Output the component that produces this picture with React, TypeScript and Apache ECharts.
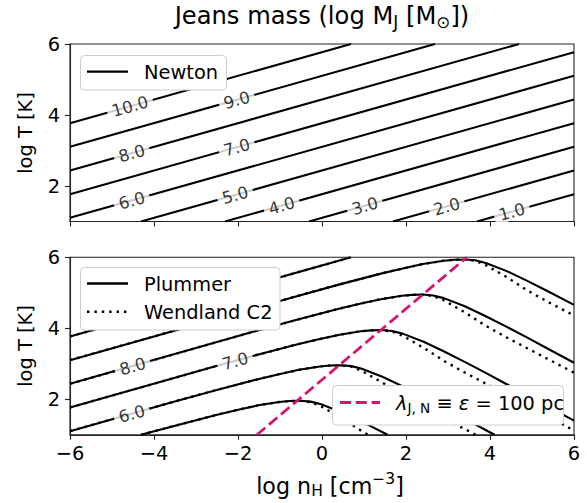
import React, { useEffect, useRef } from "react";
import * as echarts from "echarts";

const FONT = "DejaVu Sans";

// Axis ticks
const xTicks = [-6, -4, -2, 0, 2, 4, 6];
const yTicks = [2, 4, 6];

// Top panel: Newtonian Jeans-mass contours (log n_H, log T)
const newtonLevels = [10, 9, 8, 7, 6, 5, 4, 3, 2, 1];
const newtonStart = [
  [-6, 3.77], [-6, 3.103], [-6, 2.437], [-6, 1.77], [-6, 1.103],
  [-4.31, 1], [-2.31, 1], [-0.31, 1], [1.69, 1], [3.69, 1],
];
const newtonEnd = [
  [0.69, 6], [2.69, 6], [4.69, 6], [6, 5.77], [6, 5.103],
  [6, 4.437], [6, 3.77], [6, 3.103], [6, 2.437], [6, 1.77],
];

// Inline contour labels
const topLabelText = ["10.0", "9.0", "8.0", "7.0", "6.0", "5.0", "4.0", "3.0", "2.0", "1.0"];
const topLabelX = [-4.57, -2.03, -4.53, -2.03, -4.53, -2.07, -0.96, 1.02, 2.97, 4.52];
const topLabelY = [4.247, 4.427, 2.927, 3.093, 1.593, 1.747, 1.45, 1.443, 1.427, 1.277];
const bottomLabelText = ["8.0", "7.0", "6.0"];
const bottomLabelX = [-4.51, -2.07, -4.53];
const bottomLabelY = [2.934, 3.08, 1.593];

// Bottom panel: softened contours, Plummer (solid)
const plummer10 = [[-6, 3.77], [0.69, 6]];
const plummer9 = [[-6, 3.103], [-0.6, 4.905], [0.4, 5.23], [1.4, 5.54], [1.9, 5.68], [2.4, 5.81], [2.9, 5.905], [3.15, 5.932], [3.4, 5.94], [3.65, 5.915], [3.9, 5.84], [4.4, 5.61], [4.9, 5.33], [5.4, 5.03], [6, 4.66]];
const plummer8 = [[-6, 2.437], [-1.6, 3.915], [-0.6, 4.24], [0.4, 4.55], [0.9, 4.69], [1.4, 4.82], [1.9, 4.915], [2.15, 4.942], [2.4, 4.95], [2.65, 4.925], [2.9, 4.85], [3.4, 4.62], [3.9, 4.34], [4.4, 4.04], [4.9, 3.73], [5.4, 3.41], [6, 3.03]];
const plummer7 = [[-6, 1.77], [-2.58, 2.915], [-1.58, 3.24], [-0.58, 3.55], [-0.08, 3.69], [0.42, 3.82], [0.92, 3.915], [1.17, 3.942], [1.42, 3.95], [1.67, 3.925], [1.92, 3.85], [2.42, 3.62], [2.92, 3.34], [3.42, 3.04], [3.92, 2.73], [4.42, 2.41], [4.92, 2.09], [5.42, 1.77], [6, 1.4]];
const plummer6 = [[-6, 1.103], [-3.55, 1.925], [-2.55, 2.25], [-1.55, 2.56], [-1.05, 2.7], [-0.55, 2.83], [-0.05, 2.925], [0.2, 2.952], [0.45, 2.96], [0.7, 2.935], [0.95, 2.86], [1.45, 2.63], [1.95, 2.35], [2.45, 2.05], [2.95, 1.74], [3.45, 1.42], [3.95, 1.1], [4.11, 1]];
const plummer5 = [[-4.31, 1], [-3.52, 1.25], [-2.52, 1.56], [-2.02, 1.7], [-1.52, 1.83], [-1.02, 1.925], [-0.77, 1.952], [-0.52, 1.96], [-0.27, 1.935], [-0.02, 1.86], [0.48, 1.63], [0.98, 1.35], [1.48, 1.05], [1.56, 1]];

// Wendland C2 (dotted)
const wendland10 = [[-6, 3.77], [0.69, 6]];
const wendland9 = [[-6, 3.103], [-0.6, 4.905], [0.4, 5.23], [1.4, 5.54], [1.9, 5.68], [2.4, 5.81], [2.9, 5.905], [3.15, 5.932], [3.4, 5.935], [3.65, 5.9], [3.9, 5.78], [4.4, 5.44], [4.9, 5.06], [5.4, 4.73], [6, 4.36]];
const wendland8 = [[-6, 2.437], [-1.6, 3.915], [-0.6, 4.24], [0.4, 4.55], [0.9, 4.69], [1.4, 4.82], [1.9, 4.915], [2.15, 4.942], [2.4, 4.945], [2.65, 4.91], [2.9, 4.79], [3.4, 4.45], [3.9, 4.07], [4.4, 3.74], [4.9, 3.43], [5.4, 3.12], [6, 2.75]];
const wendland7 = [[-6, 1.77], [-2.58, 2.915], [-1.58, 3.24], [-0.58, 3.55], [-0.08, 3.69], [0.42, 3.82], [0.92, 3.915], [1.17, 3.942], [1.42, 3.945], [1.67, 3.91], [1.92, 3.79], [2.42, 3.45], [2.92, 3.07], [3.42, 2.74], [3.92, 2.43], [4.42, 2.12], [4.92, 1.81], [5.42, 1.49], [6, 1.12]];
const wendland6 = [[-6, 1.103], [-3.55, 1.925], [-2.55, 2.25], [-1.55, 2.56], [-1.05, 2.7], [-0.55, 2.83], [-0.05, 2.925], [0.2, 2.952], [0.45, 2.955], [0.7, 2.92], [0.95, 2.8], [1.45, 2.46], [1.95, 2.08], [2.45, 1.75], [2.95, 1.44], [3.45, 1.13], [3.66, 1]];
const wendland5 = [[-4.31, 1], [-3.52, 1.25], [-2.52, 1.56], [-2.02, 1.7], [-1.52, 1.83], [-1.02, 1.925], [-0.77, 1.952], [-0.52, 1.955], [-0.27, 1.92], [-0.02, 1.8], [0.48, 1.46], [0.98, 1.08], [1.1, 1]];

// lambda_J,N = epsilon = 100 pc line
const lambdaLine = [[-1.55, 1], [3.45, 6]];

const PINK = "#d4156f";
const SPINE = "#222";

function minusFmt(v: number) {
  return v < 0 ? "\u2212" + Math.abs(v) : String(v);
}

export default function App() {
  const ref = useRef<HTMLDivElement>(null);

  useEffect(() => {
    if (!ref.current) return;
    const chart = echarts.init(ref.current, undefined, { renderer: "svg" });

    const gridCommon = {
      left: 70,
      width: 504,
      height: 177.5,
      show: true,
      borderColor: SPINE,
      borderWidth: 1.1,
      backgroundColor: "transparent",
    };

    const xAxisCommon = (gridIndex: number, showLabels: boolean) => ({
      type: "value",
      gridIndex,
      min: -6,
      max: 6,
      interval: 2,
      axisLine: { show: true, onZero: false, lineStyle: { color: SPINE, width: 1.1 } },
      axisTick: { show: true, length: 5, lineStyle: { color: SPINE, width: 1.1 } },
      axisLabel: {
        show: showLabels,
        fontSize: 19.4,
        fontFamily: FONT,
        color: "#000",
        margin: 9,
        formatter: (v: number) => minusFmt(v),
      },
      splitLine: { show: false },
    });

    const yAxisCommon = (gridIndex: number) => ({
      type: "value",
      gridIndex,
      min: 1,
      max: 6,
      axisLine: { show: true, onZero: false, lineStyle: { color: SPINE, width: 1.1 } },
      axisTick: { show: true, length: 5, customValues: yTicks, lineStyle: { color: SPINE, width: 1.1 } },
      axisLabel: {
        show: true,
        customValues: yTicks,
        fontSize: 19.4,
        fontFamily: FONT,
        color: "#000",
        margin: 10,
        formatter: (v: number) => minusFmt(v),
      },
      splitLine: { show: false },
    });

    const series: any[] = [];

    newtonStart.forEach((s, i) => {
      series.push({
        name: "Newton " + newtonLevels[i],
        type: "line",
        xAxisIndex: 0,
        yAxisIndex: 0,
        data: [s, newtonEnd[i]],
        symbol: "none",
        silent: true,
        lineStyle: { color: "#000", width: 2.1 },
        z: 2,
      });
    });

    const labelSeries = (axis: number, texts: string[], xs: number[], ys: number[]) => ({
      type: "scatter",
      xAxisIndex: axis,
      yAxisIndex: axis,
      symbolSize: 0,
      silent: true,
      z: 5,
      data: texts.map((t, i) => ({ name: t, value: [xs[i], ys[i]] })),
      label: {
        show: true,
        position: "inside",
        formatter: (p: any) => p.name,
        rotate: 15.7,
        fontSize: 16.7,
        fontFamily: FONT,
        color: "#000",
        backgroundColor: "#fff",
        padding: [0, 5],
      },
    });

    series.push(labelSeries(0, topLabelText, topLabelX, topLabelY));

    const plummer = [plummer10, plummer9, plummer8, plummer7, plummer6, plummer5];
    const wendland = [wendland10, wendland9, wendland8, wendland7, wendland6, wendland5];

    plummer.forEach((d, i) => {
      series.push({
        name: "Plummer " + (10 - i),
        type: "line",
        xAxisIndex: 1,
        yAxisIndex: 1,
        data: d,
        symbol: "none",
        silent: true,
        lineStyle: { color: "#000", width: 2.1, join: "round" },
        z: 2,
      });
    });
    wendland.forEach((d, i) => {
      series.push({
        name: "Wendland " + (10 - i),
        type: "line",
        xAxisIndex: 1,
        yAxisIndex: 1,
        data: d,
        symbol: "none",
        silent: true,
        lineStyle: { color: "#000", width: 2.4, type: [2.4, 5] },
        z: 3,
      });
    });

    series.push(labelSeries(1, bottomLabelText, bottomLabelX, bottomLabelY));

    series.push({
      name: "lambda",
      type: "line",
      xAxisIndex: 1,
      yAxisIndex: 1,
      data: lambdaLine,
      symbol: "none",
      silent: true,
      lineStyle: { color: PINK, width: 2.8, type: [11, 4.8] },
      z: 6,
    });

    const txt = (x: number, y: number, text: string, rich: any, extra: any = {}) => ({
      type: "text",
      x,
      y,
      z: 100,
      ...extra,
      style: {
        text,
        align: extra.align || "left",
        verticalAlign: "middle",
        textAlign: extra.align || "left",
        textVerticalAlign: "middle",
        fontSize: 19.4,
        fontFamily: FONT,
        fill: "#000",
        rich,
      },
    });

    const normal = (fs: number) => ({ fontSize: fs, fontFamily: FONT, fill: "#000", lineHeight: fs * 1.15 });
    const italic = (fs: number) => ({ fontSize: fs, fontFamily: FONT, fontStyle: "italic", fill: "#000", lineHeight: fs * 1.15 });
    const sub = (fs: number, p: number) => ({ fontSize: fs, fontFamily: FONT, fill: "#000", lineHeight: fs * 1.15, padding: [p, 0, 0, 0] });
    const sup = (fs: number, p: number) => ({ fontSize: fs, fontFamily: FONT, fill: "#000", lineHeight: fs * 1.15, padding: [0, 0, p, 0] });

    const legendBox = (x: number, y: number, w: number, h: number) => ({
      type: "rect",
      z: 90,
      shape: { x, y, width: w, height: h, r: 4 },
      style: { fill: "#fff", stroke: "#cccccc", lineWidth: 1 },
    });
    const legendLine = (x1: number, x2: number, y: number, style: any) => ({
      type: "line",
      z: 95,
      shape: { x1, y1: y, x2, y2: y },
      style: { lineWidth: 2.3, stroke: "#000", ...style },
    });

    const graphic: any[] = [
      // title
      txt(322, 16, "{n|Jeans mass (log M}{s|J}{n| [M}{s|\u2299}{n|])}", { n: normal(24.2), s: sub(16.9, 11) }, { align: "center" }),
      // y labels
      txt(25, 133, "log T [K]", { n: normal(23) }, { align: "center", rotation: Math.PI / 2 }),
      txt(25, 346, "log T [K]", { n: normal(23) }, { align: "center", rotation: Math.PI / 2 }),
      // x label
      txt(330, 486, "{n|log n}{s|H}{n| [cm}{p|\u22123}{n|]}", { n: normal(22.2), s: sub(15.5, 10), p: sup(15.5, 14) }, { align: "center" }),
      // legend top
      legendBox(80.5, 55.5, 146, 34.5),
      legendLine(87, 128, 71.7, {}),
      txt(144, 72, "{n|Newton}", { n: normal(19.4) }),
      // legend bottom-left
      legendBox(80.5, 267.5, 199.5, 62.5),
      legendLine(87, 128, 283.5, {}),
      legendLine(87, 128, 311.7, { lineWidth: 2.4, lineDash: [2.4, 5] }),
      txt(144, 284, "{n|Plummer}", { n: normal(19.4) }),
      txt(144, 312, "{n|Wendland C2}", { n: normal(19.4) }),
      // legend bottom-right
      legendBox(332.5, 385.5, 231, 39.5),
      legendLine(340, 380, 402.5, { stroke: PINK, lineWidth: 2.8, lineDash: [11, 4.8] }),
      txt(396, 403, "{i|\u03bb}{s|J, N}{n| \u2261 }{i|\u03b5}{n| = 100 pc}", { n: normal(19.4), i: italic(19.4), s: sub(13.6, 10) }),
    ];

    chart.setOption({
      animation: false,
      grid: [
        { ...gridCommon, top: 44 },
        { ...gridCommon, top: 257.3 },
      ],
      xAxis: [xAxisCommon(0, false), xAxisCommon(1, true)],
      yAxis: [yAxisCommon(0), yAxisCommon(1)],
      series,
      graphic,
    });

    return () => chart.dispose();
  }, []);

  return (
    <div
      ref={ref}
      style={{ position: "absolute", left: 0, top: 0, width: 587, height: 503, background: "#fff" }}
    />
  );
}
